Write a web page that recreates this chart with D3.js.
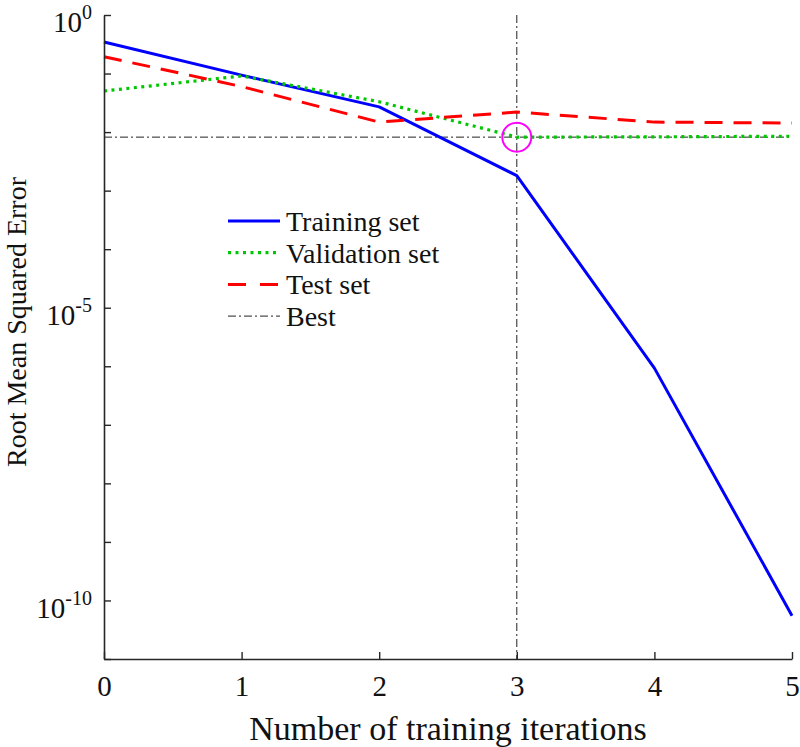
<!DOCTYPE html>
<html>
<head>
<meta charset="utf-8">
<script src="https://cdn.jsdelivr.net/npm/d3@7"></script>
<style>
  body { margin: 0; background: #fff; }
  svg { display: block; font-family: "Liberation Serif", "Times New Roman", serif; }
</style>
</head>
<body>
<div id="chart"></div>
<script>
// values
const iterations = [0, 1, 2, 3, 4, 5];
const training = [0.345, 0.094, 0.027, 0.0018, 9.3e-7, 5.5e-11];
const validation = [0.0503, 0.091, 0.033, 0.0082, 0.0083, 0.0085];
const test = [0.194, 0.06, 0.0148, 0.022, 0.0148, 0.0143];
const bestEpoch = 3;
const bestValue = 0.0082;
const yTicks = d3.range(0, -12, -1).map(e => Math.pow(10, e));
const yLabelled = [0, -5, -10];
const legendNames = ["Training set", "Validation set", "Test set", "Best"];

const width = 800, height = 747;
const plotLeft = 104, plotRight = 792, plotTop = 15, plotBottom = 659;

const svg = d3.select("#chart").append("svg")
  .attr("width", width)
  .attr("height", height);

const x = d3.scaleLinear().domain([0, 5]).range([plotLeft, plotRight]);
const y = d3.scaleLog().domain([1e-11, 1]).range([plotBottom, plotTop]);

const axisColor = "#262626";

// series styles
const styles = [
  { color: "#0000ff", dash: null, width: 3 },
  { color: "#00c800", dash: "3,4.5", width: 3.2 },
  { color: "#ff0000", dash: "18,11", width: 3 },
  { color: "#222", dash: "8,3,2,3", width: 1 }
];

// best marker lines
svg.append("line")
  .attr("x1", x(0)).attr("x2", x(5))
  .attr("y1", y(bestValue)).attr("y2", y(bestValue))
  .attr("stroke", styles[3].color).attr("stroke-width", 1)
  .attr("stroke-dasharray", styles[3].dash);
svg.append("line")
  .attr("x1", x(bestEpoch)).attr("x2", x(bestEpoch))
  .attr("y1", plotTop).attr("y2", plotBottom)
  .attr("stroke", styles[3].color).attr("stroke-width", 1)
  .attr("stroke-dasharray", styles[3].dash);

const line = d3.line()
  .x((d, i) => x(iterations[i]))
  .y(d => y(d));

[training, validation, test].forEach((series, i) => {
  svg.append("path")
    .datum(series)
    .attr("d", line)
    .attr("fill", "none")
    .attr("stroke", styles[i].color)
    .attr("stroke-width", styles[i].width)
    .attr("stroke-dasharray", styles[i].dash)
    .attr("stroke-linejoin", "round");
});

// best circle
svg.append("circle")
  .attr("cx", x(bestEpoch))
  .attr("cy", y(bestValue))
  .attr("r", 14.5)
  .attr("fill", "none")
  .attr("stroke", "#ff00ff")
  .attr("stroke-width", 2);

// axes
const xAxis = svg.append("g")
  .attr("transform", `translate(0,${plotBottom})`)
  .call(d3.axisBottom(x).tickValues(iterations).tickFormat(d3.format("d"))
    .tickSizeInner(-7).tickSizeOuter(0).tickPadding(16));

const yAxis = svg.append("g")
  .attr("transform", `translate(${plotLeft},0)`)
  .call(d3.axisLeft(y).tickValues(yTicks).tickFormat(() => "")
    .tickSizeInner(-7).tickSizeOuter(0).tickPadding(12));

[xAxis, yAxis].forEach(g => {
  g.select(".domain").attr("stroke", axisColor).attr("stroke-width", 1.6);
  g.selectAll(".tick line").attr("stroke", axisColor).attr("stroke-width", 1.4);
  g.selectAll("text").attr("fill", "#111").style("font-size", "29px")
    .style("font-family", "Liberation Serif, serif");
});
xAxis.selectAll(".tick text").attr("dy", "0.71em");

// power-of-ten labels on the y axis
yAxis.selectAll(".tick").each(function(d) {
  const e = Math.round(Math.log10(d));
  if (!yLabelled.includes(e)) return;
  const t = d3.select(this).select("text")
    .attr("dy", "0.58em")
    .text(null);
  t.append("tspan").text("10");
  t.append("tspan").text(String(e))
    .style("font-size", "20px")
    .attr("dy", "-13px");
});

// axis titles
svg.append("text")
  .attr("x", (plotLeft + plotRight) / 2)
  .attr("y", 740)
  .attr("text-anchor", "middle")
  .style("font-size", "34px")
  .attr("fill", "#111")
  .text("Number of training iterations");

svg.append("text")
  .attr("transform", `translate(26,${(plotTop + plotBottom) / 2 - 15}) rotate(-90)`)
  .attr("text-anchor", "middle")
  .style("font-size", "28px")
  .attr("fill", "#111")
  .text("Root Mean Squared Error");

// legend
const legend = svg.append("g").attr("transform", "translate(228,221)");
legendNames.forEach((name, i) => {
  const row = legend.append("g").attr("transform", `translate(0,${i * 31.7})`);
  row.append("line")
    .attr("x1", 0).attr("x2", 52)
    .attr("stroke", styles[i].color)
    .attr("stroke-width", styles[i].width)
    .attr("stroke-dasharray", i === 2 ? "18,14" : styles[i].dash);
  row.append("text")
    .attr("x", 58)
    .attr("dy", "0.35em")
    .style("font-size", "28px")
    .attr("fill", "#111")
    .text(name);
});
</script>
</body>
</html>
